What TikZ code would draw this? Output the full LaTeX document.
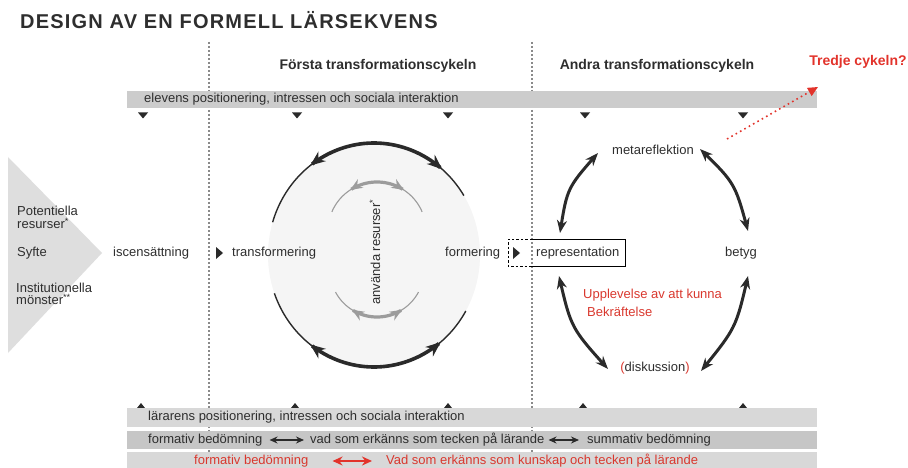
\documentclass[tikz,border=0pt]{standalone}
\usepackage{fontspec}
\setmainfont{Liberation Sans}
\usetikzlibrary{arrows.meta,calc,bending}
\definecolor{txt}{HTML}{2E2E2E}
\definecolor{barA}{HTML}{CCCCCC}
\definecolor{barB}{HTML}{D8D8D8}
\definecolor{barC}{HTML}{C6C6C6}
\definecolor{redc}{HTML}{E2332B}
\definecolor{redt}{HTML}{D9382E}
\definecolor{arcgray}{HTML}{9C9C9C}
\definecolor{fillc}{HTML}{F5F5F5}
\definecolor{chev}{HTML}{DEDEDE}
\definecolor{dashc}{HTML}{8A8A8A}
\definecolor{arcblack}{HTML}{2A2A2A}
\tikzset{
  lbl/.style={font=\fontsize{13}{14}\selectfont, text=txt, inner sep=0pt},
  redlbl/.style={font=\fontsize{13}{14}\selectfont, text=redt, inner sep=0pt},
  head/.style={font=\fontsize{14}{16}\selectfont\bfseries, text=txt, inner sep=0pt},
  vline/.style={draw=dashc, line width=1.2pt, dash pattern=on 2pt off 2pt},
  marker/.style={fill=arcblack, draw=none},
  blackarc/.style={draw=arcblack, line width=3.6pt, arrows={Stealth[length=15pt,width=12pt,bend]-Stealth[length=15pt,width=12pt,bend]}},
  blacktail/.style={draw=arcblack, line width=1.4pt},
  grayarc/.style={draw=arcgray, line width=3.2pt, arrows={Stealth[length=12pt,width=10pt,bend]-Stealth[length=12pt,width=10pt,bend]}},
  graytail/.style={draw=arcgray, line width=1.1pt},
  cyc/.style={draw=arcblack, line width=3pt, arrows={Stealth[length=13pt,width=10pt,bend]-Stealth[length=13pt,width=10pt,bend]}},
  dbl/.style={draw=arcblack, line width=2pt, arrows={Stealth[length=8pt,width=7pt]-Stealth[length=8pt,width=7pt]}},
  reddbl/.style={draw=redc, line width=2.2pt, arrows={Stealth[length=10pt,width=9pt]-Stealth[length=10pt,width=9pt]}}
}
\begin{document}
\begin{tikzpicture}[x=1pt,y=-1pt]
\useasboundingbox (0,0) rectangle (908,468);
% title
\node[anchor=west, inner sep=0pt, text=txt, font=\fontsize{20}{24}\selectfont\bfseries\addfontfeature{LetterSpace=6}] (title) at (20,20) {DESIGN AV EN FORMELL LÄRSEKVENS};
% dashed vertical lines
\draw[vline] (209,42) -- (209,468);
\draw[vline] (532,42) -- (532,468);
% headers
\node[head] (h1) at (378,66) {Första transformationscykeln};
\node[head] (h2) at (657,66) {Andra transformationscykeln};
\node[head, text=redc] (h3) at (858,62) {Tredje cykeln?};
% top bar
\fill[barA] (127,91) rectangle (817,108);
\node[lbl, anchor=west] (elev) at (144,99.5) {elevens positionering, intressen och sociala interaktion};
\foreach \x in {143,297,448,585,743}{
  \fill[marker] (\x-5,112.5) -- (\x+5,112.5) -- (\x,118.5) -- cycle;
}
% red dotted arrow
\coordinate (r0) at (727,139);
\coordinate (r1) at (818,87);
\draw[draw=redc, line width=1.6pt, dash pattern=on 1.6pt off 3.4pt, -{Triangle[length=10pt,width=9pt]}] (r0) -- (r1);
% left chevron
\fill[chev] (8,157) -- (102,253) -- (8,353) -- cycle;
\node[lbl, anchor=west, align=left, font=\fontsize{13}{12.5}\selectfont] (pot) at (17,217.5) {Potentiella\\resurser\textsuperscript{*}};
\node[lbl, anchor=west] (syf) at (17,253) {Syfte};
\node[lbl, anchor=west, align=left, font=\fontsize{13}{12.5}\selectfont] (inst) at (16,294) {Institutionella\\mönster\textsuperscript{**}};
\node[lbl, anchor=west] (isc) at (113,253) {iscensättning};
\fill[marker] (216,247) -- (223,253) -- (216,259) -- cycle;
% big circle
\fill[fillc] (374,255) ellipse [x radius=106, y radius=112];
\draw[blacktail] plot[domain=126:163, samples=30] ({374+106*cos(\x)},{255-112*sin(\x)});
\draw[blacktail] plot[domain=51:32, samples=30] ({374+106*cos(\x)},{255-112*sin(\x)});
\draw[blackarc] plot[domain=127:50, samples=60] ({374+106*cos(\x)},{255-112*sin(\x)});
\draw[blacktail] plot[domain=234:200, samples=30] ({374+106*cos(\x)},{255-112*sin(\x)});
\draw[blacktail] plot[domain=308:330, samples=30] ({374+106*cos(\x)},{255-112*sin(\x)});
\draw[blackarc] plot[domain=233:309, samples=60] ({374+106*cos(\x)},{255-112*sin(\x)});
% gray inner arcs
\draw[graytail] plot[domain=121:157, samples=30] ({377+49*cos(\x)},{231-49*sin(\x)});
\draw[graytail] plot[domain=59:23, samples=30] ({377+49*cos(\x)},{231-49*sin(\x)});
\draw[grayarc] plot[domain=123:57, samples=50] ({377+49*cos(\x)},{231-49*sin(\x)});
\draw[graytail] plot[domain=240:208, samples=30] ({377+47*cos(\x)},{270-47*sin(\x)});
\draw[graytail] plot[domain=300:332, samples=30] ({377+47*cos(\x)},{270-47*sin(\x)});
\draw[grayarc] plot[domain=238:302, samples=50] ({377+47*cos(\x)},{270-47*sin(\x)});
\node[lbl, rotate=90] (anv) at (375,252) {använda resurser\textsuperscript{*}};
\node[lbl, anchor=west] (trans) at (232,253) {transformering};
\node[lbl, anchor=west] (form) at (445,253) {formering};
% representation boxes
\draw[black, line width=1pt, dash pattern=on 2.5pt off 2pt] (532,239) -- (508,239) -- (508,266) -- (532,266);
\fill[marker] (513,247) -- (520,253) -- (513,259) -- cycle;
\draw[black, line width=0.9pt] (532,239) -- (625,239) -- (625,266) -- (532,266);
\node[lbl, anchor=west] (rep) at (536,253) {representation};
% second cycle
\node[lbl] (meta) at (653,150) {metareflektion};
\node[lbl] (bet) at (741,253) {betyg};
\node[lbl] (disk) at (655,368) {\textcolor{redt}{(}diskussion\textcolor{redt}{)}};
\node[redlbl, anchor=west] (upp) at (583,295) {Upplevelse av att kunna};
\node[redlbl, anchor=west] (bek) at (587,312) {Bekräftelse};
\coordinate (a1) at (560,233); \coordinate (a2) at (598,153);
\coordinate (b1) at (700,149); \coordinate (b2) at (748,231);
\coordinate (c1) at (559,276); \coordinate (c2) at (608,369);
\coordinate (d1) at (748,276); \coordinate (d2) at (701,371);
\draw[cyc] (a1) .. controls (567,188) .. (a2);
\draw[cyc] (b1) .. controls (735,183) .. (b2);
\draw[cyc] (c1) .. controls (571,328) .. (c2);
\draw[cyc] (d1) .. controls (736,328) .. (d2);
% bottom bars
\foreach \x in {141,295,448,583,743}{
  \fill[marker] (\x-4,408) -- (\x+4,408) -- (\x,403) -- cycle;
}
\fill[barB] (127,408) rectangle (817,427);
\fill[barC] (127,431) rectangle (817,449);
\fill[barB] (127,452) rectangle (817,468);
\node[lbl, anchor=west] (lar) at (148,417) {lärarens positionering, intressen och sociala interaktion};
\node[lbl, anchor=west] (fb1) at (148,440) {formativ bedömning};
\node[lbl, anchor=west] (vad1) at (310,440) {vad som erkänns som tecken på lärande};
\node[lbl, anchor=west] (sum) at (587,440) {summativ bedömning};
\draw[dbl, shorten <=7pt, shorten >=6pt] (fb1.east) -- (vad1.west);
\draw[dbl, shorten <=4pt, shorten >=8pt] (vad1.east) -- (sum.west);
\node[redlbl, anchor=west] (fb2) at (194,461) {formativ bedömning};
\node[redlbl, anchor=west] (vad2) at (386,461) {Vad som erkänns som kunskap och tecken på lärande};
\draw[reddbl, shorten <=24pt, shorten >=14pt] (fb2.east) -- (vad2.west);
\end{tikzpicture}
\end{document}
